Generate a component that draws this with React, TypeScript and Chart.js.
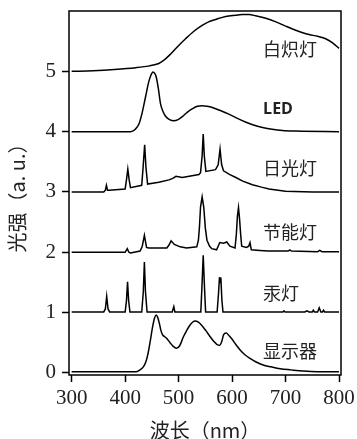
import React, { useEffect, useRef } from "react";
import { Chart, registerables } from "chart.js";

Chart.register(...registerables);

// ---- Data (wavelength in nm, intensity in a.u., already offset) ----
const incandescentNm = [300, 340, 380, 420, 445, 463, 472, 482, 497, 513, 528, 544, 556, 569, 588, 607, 619, 632, 644, 663, 682, 700, 719, 732, 744, 760, 775, 788, 800];
const incandescentI = [5.0, 5.01, 5.03, 5.06, 5.09, 5.13, 5.18, 5.26, 5.40, 5.54, 5.66, 5.76, 5.82, 5.86, 5.91, 5.93, 5.94, 5.94, 5.92, 5.88, 5.82, 5.75, 5.68, 5.64, 5.61, 5.58, 5.54, 5.47, 5.38];

const ledNm = [300, 380, 410, 418, 426, 432, 438, 444, 448, 452, 455, 458, 462, 466, 471, 476, 483, 491, 499, 507, 516, 526, 535, 544, 553, 563, 578, 594, 610, 625, 640, 657, 675, 694, 720, 800];
const ledI = [4.0, 4.0, 4.0, 4.03, 4.13, 4.32, 4.57, 4.82, 4.93, 4.99, 4.97, 4.91, 4.72, 4.47, 4.33, 4.25, 4.20, 4.18, 4.2, 4.25, 4.32, 4.38, 4.42, 4.43, 4.42, 4.40, 4.35, 4.29, 4.22, 4.16, 4.11, 4.07, 4.04, 4.02, 4.01, 4.0];

const daylightNm = [300, 360, 363, 365, 367, 370, 400, 402.5, 405, 407.5, 410, 431, 433.5, 436.5, 439, 442, 463, 482, 490, 495, 507, 525, 538, 541, 544, 546, 548, 551, 569, 574, 577.5, 580.5, 584, 595, 607, 620, 638, 655, 669, 700, 750, 800];
const daylightI = [3.0, 3.0, 3.03, 3.11, 3.03, 3.03, 3.05, 3.2, 3.38, 3.2, 3.07, 3.11, 3.4, 3.78, 3.4, 3.13, 3.16, 3.20, 3.23, 3.26, 3.24, 3.27, 3.29, 3.32, 3.6, 3.96, 3.6, 3.34, 3.37, 3.45, 3.71, 3.45, 3.35, 3.29, 3.24, 3.18, 3.12, 3.08, 3.05, 3.01, 3.0, 3.0];

const cflNm = [300, 400, 404, 407, 410, 428, 432, 436, 440, 444, 478, 482, 486, 492, 503, 515, 534, 537, 539, 541, 544, 547, 550, 553, 558, 562, 571, 575, 577, 584, 590, 596, 605.5, 608, 610, 612, 614, 616, 618, 627, 631, 633.5, 636, 652, 668, 705, 708, 711, 760, 764, 768, 800];
const cflI = [2.0, 2.0, 2.06, 2.0, 1.99, 2.02, 2.1, 2.28, 2.08, 2.07, 2.07, 2.12, 2.19, 2.13, 2.09, 2.07, 2.09, 2.2, 2.42, 2.75, 2.92, 2.75, 2.4, 2.2, 2.1, 2.06, 2.04, 2.12, 2.16, 2.15, 2.17, 2.10, 2.07, 2.3, 2.6, 2.74, 2.55, 2.3, 2.10, 2.08, 2.1, 2.16, 2.04, 2.03, 2.02, 2.02, 2.04, 2.02, 2.01, 2.03, 2.01, 2.01];

const mercuryNm = [300, 360, 363, 365.5, 368, 371, 400, 402.5, 404.5, 406.5, 409, 431, 434, 436, 438, 441, 488, 491, 493, 541.5, 543.5, 546, 548.5, 550.5, 572, 574.5, 576.5, 577.8, 579, 581, 583, 695, 697, 699, 736, 740, 744, 750, 752, 754, 760, 763, 766, 769, 771, 773, 790, 800];
const mercuryI = [1.01, 1.01, 1.06, 1.27, 1.06, 1.01, 1.01, 1.2, 1.51, 1.2, 1.01, 1.01, 1.35, 1.84, 1.35, 1.01, 1.01, 1.10, 1.01, 1.01, 1.4, 1.95, 1.4, 1.01, 1.01, 1.3, 1.59, 1.5, 1.58, 1.2, 1.01, 1.01, 1.03, 1.01, 1.01, 1.03, 1.01, 1.01, 1.04, 1.01, 1.01, 1.08, 1.01, 1.01, 1.04, 1.01, 1.01, 1.01];

const displayNm = [300, 400, 421, 428, 434, 439, 443, 447, 451.5, 455, 458, 461, 464, 467, 470, 474, 478, 484, 490, 496, 502, 509, 515, 521, 526, 531, 537, 543, 551, 559, 566, 572, 577, 581, 584, 589, 594, 599, 607, 615, 624, 633.5, 645, 658, 673, 690, 710, 733, 760, 800];
const displayI = [0.02, 0.02, 0.02, 0.05, 0.10, 0.19, 0.33, 0.53, 0.77, 0.91, 0.96, 0.92, 0.82, 0.70, 0.63, 0.60, 0.57, 0.50, 0.44, 0.41, 0.45, 0.60, 0.70, 0.79, 0.84, 0.86, 0.84, 0.79, 0.70, 0.60, 0.52, 0.47, 0.46, 0.53, 0.63, 0.66, 0.62, 0.57, 0.47, 0.38, 0.30, 0.24, 0.18, 0.13, 0.10, 0.07, 0.05, 0.03, 0.02, 0.02];

const seriesNames = ["白炽灯", "LED", "日光灯", "节能灯", "汞灯", "显示器"];
const labelLevels = [5.36, 4.37, 3.39, 2.34, 1.33, 0.36];
const labelStartNm = 658;

const xTicks = [300, 400, 500, 600, 700, 800];
const yTicks = [0, 1, 2, 3, 4, 5];

const xTitle = "波长（nm）";
const yTitle = "光强（a. u.）";

const toPts = (xs: number[], ys: number[]) => xs.map((x, i) => ({ x, y: ys[i] }));

const framePlugin = {
  id: "frameAndLabels",
  afterDatasetsDraw(chart: any) {
    const { ctx, chartArea } = chart;
    const { left, top, right, bottom } = chartArea;
    ctx.save();
    ctx.strokeStyle = "#000";
    ctx.lineWidth = 1.5;
    ctx.strokeRect(left, top, right - left, bottom - top);
    const xs = chart.scales.x;
    const ys = chart.scales.y;
    ctx.fillStyle = "#222";
    ctx.textAlign = "left";
    ctx.textBaseline = "middle";
    seriesNames.forEach((name, i) => {
      ctx.font = name === "LED"
        ? "bold 16px 'Open Sans', 'Noto Sans', sans-serif"
        : "18px 'Noto Sans CJK SC', sans-serif";
      ctx.fillText(name, xs.getPixelForValue(labelStartNm), ys.getPixelForValue(labelLevels[i]));
    });
    ctx.restore();
  },
};

export default function App() {
  const ref = useRef<HTMLCanvasElement | null>(null);

  useEffect(() => {
    if (!ref.current) return;
    const smooth = { cubicInterpolationMode: "monotone" as const };
    const base = {
      borderColor: "#000",
      borderWidth: 1.5,
      pointRadius: 0,
      fill: false,
    };
    const chart = new Chart(ref.current, {
      type: "line",
      data: {
        datasets: [
          { label: seriesNames[0], data: toPts(incandescentNm, incandescentI), ...base, ...smooth },
          { label: seriesNames[1], data: toPts(ledNm, ledI), ...base, ...smooth },
          { label: seriesNames[2], data: toPts(daylightNm, daylightI), ...base, tension: 0 },
          { label: seriesNames[3], data: toPts(cflNm, cflI), ...base, tension: 0 },
          { label: seriesNames[4], data: toPts(mercuryNm, mercuryI), ...base, tension: 0 },
          { label: seriesNames[5], data: toPts(displayNm, displayI), ...base, ...smooth },
        ],
      },
      options: {
        animation: false,
        responsive: false,
        devicePixelRatio: 1,
        layout: { padding: { top: 11, right: 16, left: 0, bottom: 0 } },
        plugins: { legend: { display: false }, tooltip: { enabled: false } },
        scales: {
          x: {
            type: "linear",
            min: 295,
            max: 803.7,
            afterBuildTicks: (s: any) => {
              s.ticks = xTicks.map((v) => ({ value: v }));
            },
            afterFit: (s: any) => {
              s.height = 64;
              s.paddingLeft = 0;
              s.paddingRight = 0;
            },
            grid: { display: true, drawOnChartArea: false, drawTicks: true, tickLength: 7, tickWidth: 1.5, tickColor: "#000" },
            border: { display: false },
            ticks: {
              padding: 4,
              color: "#222",
              maxRotation: 0,
              font: { family: "'Liberation Serif', serif", size: 21 },
            },
            title: {
              display: true,
              text: xTitle,
              color: "#222",
              font: { family: "'Noto Sans CJK SC', sans-serif", size: 20, lineHeight: 0.9 },
              padding: { top: 0, bottom: 0 },
            },
          },
          y: {
            type: "linear",
            min: -0.035,
            max: 6,
            afterBuildTicks: (s: any) => {
              s.ticks = yTicks.map((v) => ({ value: v }));
            },
            afterFit: (s: any) => {
              s.width = 69;
              s.paddingTop = 0;
              s.paddingBottom = 0;
            },
            grid: { display: true, drawOnChartArea: false, drawTicks: true, tickLength: 7, tickWidth: 1.5, tickColor: "#000" },
            border: { display: false },
            ticks: {
              padding: 6,
              color: "#222",
              font: { family: "'Liberation Serif', serif", size: 21 },
            },
            title: {
              display: true,
              text: yTitle,
              color: "#222",
              font: { family: "'Noto Sans CJK SC', sans-serif", size: 20, lineHeight: 1.2 },
              padding: { top: 5, bottom: 0 },
            },
          },
        },
      },
      plugins: [framePlugin],
    });
    return () => chart.destroy();
  }, []);

  return (
    <div style={{ position: "fixed", left: 0, top: 0, width: 357, height: 439, background: "#fff" }}>
      <canvas ref={ref} width={357} height={439} style={{ width: 357, height: 439, display: "block" }} />
    </div>
  );
}
